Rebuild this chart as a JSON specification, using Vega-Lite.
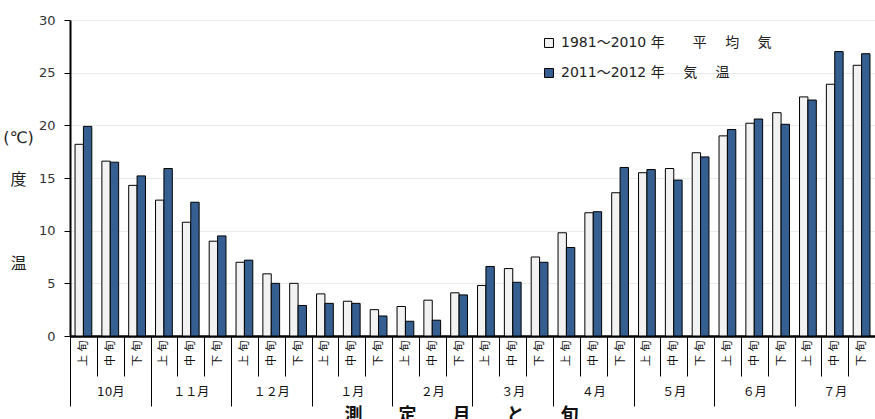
{
  "$schema": "https://vega.github.io/schema/vega-lite/v6.json",
  "autosize": "none",
  "width": 805,
  "height": 316,
  "padding": {"left": 70, "top": 20, "right": 0, "bottom": 83},
  "background": "white",
  "config": {
    "font": "DejaVu Sans, Noto Sans CJK JP",
    "view": {"stroke": null}
  },
  "data": {
    "values": [
      {"key": "10月上旬", "series": "1981～2010 年　　平　 均　 気", "temp": 18.2},
      {"key": "10月上旬", "series": "2011～2012 年　 気　 温", "temp": 19.9},
      {"key": "10月中旬", "series": "1981～2010 年　　平　 均　 気", "temp": 16.6},
      {"key": "10月中旬", "series": "2011～2012 年　 気　 温", "temp": 16.5},
      {"key": "10月下旬", "series": "1981～2010 年　　平　 均　 気", "temp": 14.3},
      {"key": "10月下旬", "series": "2011～2012 年　 気　 温", "temp": 15.2},
      {"key": "１１月上旬", "series": "1981～2010 年　　平　 均　 気", "temp": 12.9},
      {"key": "１１月上旬", "series": "2011～2012 年　 気　 温", "temp": 15.9},
      {"key": "１１月中旬", "series": "1981～2010 年　　平　 均　 気", "temp": 10.8},
      {"key": "１１月中旬", "series": "2011～2012 年　 気　 温", "temp": 12.7},
      {"key": "１１月下旬", "series": "1981～2010 年　　平　 均　 気", "temp": 9.0},
      {"key": "１１月下旬", "series": "2011～2012 年　 気　 温", "temp": 9.5},
      {"key": "１２月上旬", "series": "1981～2010 年　　平　 均　 気", "temp": 7.0},
      {"key": "１２月上旬", "series": "2011～2012 年　 気　 温", "temp": 7.2},
      {"key": "１２月中旬", "series": "1981～2010 年　　平　 均　 気", "temp": 5.9},
      {"key": "１２月中旬", "series": "2011～2012 年　 気　 温", "temp": 5.0},
      {"key": "１２月下旬", "series": "1981～2010 年　　平　 均　 気", "temp": 5.0},
      {"key": "１２月下旬", "series": "2011～2012 年　 気　 温", "temp": 2.9},
      {"key": "１月上旬", "series": "1981～2010 年　　平　 均　 気", "temp": 4.0},
      {"key": "１月上旬", "series": "2011～2012 年　 気　 温", "temp": 3.1},
      {"key": "１月中旬", "series": "1981～2010 年　　平　 均　 気", "temp": 3.3},
      {"key": "１月中旬", "series": "2011～2012 年　 気　 温", "temp": 3.1},
      {"key": "１月下旬", "series": "1981～2010 年　　平　 均　 気", "temp": 2.5},
      {"key": "１月下旬", "series": "2011～2012 年　 気　 温", "temp": 1.9},
      {"key": "２月上旬", "series": "1981～2010 年　　平　 均　 気", "temp": 2.8},
      {"key": "２月上旬", "series": "2011～2012 年　 気　 温", "temp": 1.4},
      {"key": "２月中旬", "series": "1981～2010 年　　平　 均　 気", "temp": 3.4},
      {"key": "２月中旬", "series": "2011～2012 年　 気　 温", "temp": 1.5},
      {"key": "２月下旬", "series": "1981～2010 年　　平　 均　 気", "temp": 4.1},
      {"key": "２月下旬", "series": "2011～2012 年　 気　 温", "temp": 3.9},
      {"key": "３月上旬", "series": "1981～2010 年　　平　 均　 気", "temp": 4.8},
      {"key": "３月上旬", "series": "2011～2012 年　 気　 温", "temp": 6.6},
      {"key": "３月中旬", "series": "1981～2010 年　　平　 均　 気", "temp": 6.4},
      {"key": "３月中旬", "series": "2011～2012 年　 気　 温", "temp": 5.1},
      {"key": "３月下旬", "series": "1981～2010 年　　平　 均　 気", "temp": 7.5},
      {"key": "３月下旬", "series": "2011～2012 年　 気　 温", "temp": 7.0},
      {"key": "４月上旬", "series": "1981～2010 年　　平　 均　 気", "temp": 9.8},
      {"key": "４月上旬", "series": "2011～2012 年　 気　 温", "temp": 8.4},
      {"key": "４月中旬", "series": "1981～2010 年　　平　 均　 気", "temp": 11.7},
      {"key": "４月中旬", "series": "2011～2012 年　 気　 温", "temp": 11.8},
      {"key": "４月下旬", "series": "1981～2010 年　　平　 均　 気", "temp": 13.6},
      {"key": "４月下旬", "series": "2011～2012 年　 気　 温", "temp": 16.0},
      {"key": "５月上旬", "series": "1981～2010 年　　平　 均　 気", "temp": 15.5},
      {"key": "５月上旬", "series": "2011～2012 年　 気　 温", "temp": 15.8},
      {"key": "５月中旬", "series": "1981～2010 年　　平　 均　 気", "temp": 15.9},
      {"key": "５月中旬", "series": "2011～2012 年　 気　 温", "temp": 14.8},
      {"key": "５月下旬", "series": "1981～2010 年　　平　 均　 気", "temp": 17.4},
      {"key": "５月下旬", "series": "2011～2012 年　 気　 温", "temp": 17.0},
      {"key": "６月上旬", "series": "1981～2010 年　　平　 均　 気", "temp": 19.0},
      {"key": "６月上旬", "series": "2011～2012 年　 気　 温", "temp": 19.6},
      {"key": "６月中旬", "series": "1981～2010 年　　平　 均　 気", "temp": 20.2},
      {"key": "６月中旬", "series": "2011～2012 年　 気　 温", "temp": 20.6},
      {"key": "６月下旬", "series": "1981～2010 年　　平　 均　 気", "temp": 21.2},
      {"key": "６月下旬", "series": "2011～2012 年　 気　 温", "temp": 20.1},
      {"key": "７月上旬", "series": "1981～2010 年　　平　 均　 気", "temp": 22.7},
      {"key": "７月上旬", "series": "2011～2012 年　 気　 温", "temp": 22.4},
      {"key": "７月中旬", "series": "1981～2010 年　　平　 均　 気", "temp": 23.9},
      {"key": "７月中旬", "series": "2011～2012 年　 気　 温", "temp": 27.0},
      {"key": "７月下旬", "series": "1981～2010 年　　平　 均　 気", "temp": 25.7},
      {"key": "７月下旬", "series": "2011～2012 年　 気　 温", "temp": 26.8}
    ]
  },
  "resolve": {"axis": {"x": "independent"}},
  "layer": [
    {
      "mark": {"type": "bar", "stroke": "black", "strokeWidth": 1},
      "encoding": {
        "x": {
          "field": "key",
          "type": "nominal",
          "sort": null,
          "scale": {"paddingInner": 0, "paddingOuter": 0},
          "axis": {
            "orient": "bottom",
            "title": null,
            "domainColor": "black",
            "domainWidth": 2.5,
            "tickBand": "extent",
            "tickSize": 40,
            "tickColor": "black",
            "tickWidth": 1,
            "labelAngle": -90,
            "labelPadding": -36,
            "labelFontSize": 11,
            "labelColor": "#111",
            "labelExpr": "isString(datum.value) ? substring(datum.value, length(datum.value) - 2, length(datum.value) - 1) + ' ' + substring(datum.value, length(datum.value) - 1) : ''"
          }
        },
        "xOffset": {
          "field": "series",
          "type": "nominal",
          "sort": null,
          "scale": {"paddingInner": 0, "paddingOuter": 0.6}
        },
        "y": {
          "field": "temp",
          "type": "quantitative",
          "scale": {"domain": [0, 30]},
          "axis": {
            "values": [0, 5, 10, 15, 20, 25, 30],
            "domainColor": "black",
            "domainWidth": 2,
            "tickColor": "black",
            "tickSize": 6,
            "labelPadding": 9,
            "labelFontSize": 13,
            "labelColor": "#333",
            "gridColor": "#ebebeb",
            "gridWidth": 1,
            "title": ["(℃)", "度", "\u2800", "温"],
            "titleAngle": 0,
            "titleAlign": "center",
            "titleBaseline": "top",
            "titleFontSize": 16,
            "titleFontWeight": "normal",
            "titleColor": "#222",
            "titleLineHeight": 42,
            "titleX": -52,
            "titleY": 109
          }
        },
        "color": {
          "field": "series",
          "type": "nominal",
          "sort": null,
          "scale": {"range": ["#f2f2f2", "#355f91"]},
          "legend": {
            "title": null,
            "orient": "none",
            "legendX": 472,
            "legendY": 16,
            "padding": 0,
            "symbolType": "square",
            "symbolSize": 80,
            "symbolStrokeColor": "black",
            "symbolStrokeWidth": 1,
            "symbolOpacity": 1,
            "labelFontSize": 14,
            "labelColor": "#222",
            "labelLimit": 400,
            "labelOffset": 5,
            "rowPadding": 16
          }
        }
      }
    },
    {
      "mark": {"type": "bar", "opacity": 0},
      "encoding": {
        "x": {
          "field": "key",
          "type": "nominal",
          "sort": null,
          "axis": {
            "orient": "bottom",
            "domain": false,
            "grid": false,
            "tickBand": "extent",
            "tickSize": 70,
            "tickColor": "black",
            "tickWidth": 1,
            "tickOpacity": {"condition": {"test": "isString(datum.value) ? indexof(datum.value, '下旬') >= 0 : true", "value": 1}, "value": 0},
            "labelAngle": 0,
            "labelPadding": -20,
            "labelFontSize": 12,
            "labelColor": "#111",
            "labelExpr": "isString(datum.value) && indexof(datum.value, '中旬') >= 0 ? substring(datum.value, 0, indexof(datum.value, '月') + 1) : ''",
            "title": "測　　定　　月　　と　　旬",
            "titleFontSize": 18,
            "titleFontWeight": "bold",
            "titleColor": "#111",
            "titleBaseline": "top",
            "titleX": 391,
            "titleY": 70
          }
        }
      }
    }
  ]
}
